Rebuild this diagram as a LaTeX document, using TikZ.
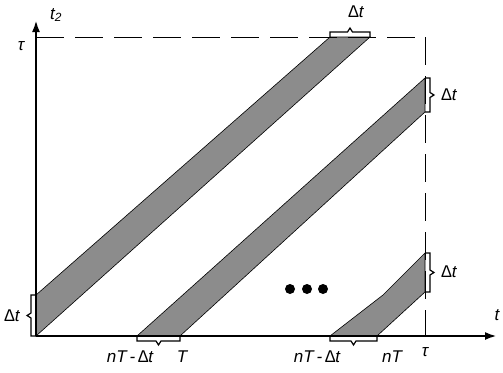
\documentclass[tikz,border=0pt]{standalone}
\usepackage{fontspec}
\setmainfont{Liberation Sans}
\usetikzlibrary{arrows.meta,calc}

\begin{document}
\begin{tikzpicture}[
    x=1pt, y=-1pt,
    lab/.style={font=\fontsize{17}{20}\selectfont\itshape, inner sep=0pt},
    band/.style={draw=black, fill=black!45, line width=0.6pt},
    axis/.style={line width=2.4pt, -{Latex[length=12pt,width=8pt]}},
    guide/.style={line width=0.8pt, dash pattern=on 28pt off 11pt},
    flatbrace/.style={draw=black, line width=1.2pt, to path={
        let \p1=(\tikztostart), \p2=(\tikztotarget),
            \n1={atan2(\y2-\y1,\x2-\x1)},
            \n2={veclen(\x2-\x1,\y2-\y1)/2-2.5} in
        -- ++({\n1+90}:5pt) -- ++({\n1}:\n2)
        -- ++({\n1+58}:4.7pt) -- ++({\n1-58}:4.7pt)
        -- ++({\n1}:\n2) -- (\tikztotarget)}},
    dot/.style={circle, fill=black, minimum size=10pt, inner sep=0pt}
]
\useasboundingbox (0,0) rectangle (503,372);

% Reference points
\coordinate (O) at (36,336);
\coordinate (ytop) at (36,20);
\coordinate (xend) at (497,336);
\coordinate (tauy) at (36,37);
\coordinate (taucorner) at (425,37);
\coordinate (taux) at (425,336);

% First band
\coordinate (b1a) at (36,336);
\coordinate (b1b) at (36,295);
\coordinate (b1c) at (330,37);
\coordinate (b1d) at (370,37);
\draw[band] (b1a) -- (b1b) -- (b1c) -- (b1d) -- cycle;

% Second band
\coordinate (b2a) at (137,336);
\coordinate (b2b) at (180,336);
\coordinate (b2c) at (425,112);
\coordinate (b2d) at (425,78);
\draw[band] (b2a) -- (b2b) -- (b2c) -- (b2d) -- cycle;

% Last band
\coordinate (b3a) at (330,336);
\coordinate (b3b) at (377,336);
\coordinate (b3c) at (425,292);
\coordinate (b3d) at (425,253);
\coordinate (b3k) at (383,295);
\draw[band] (b3a) -- (b3b) -- (b3c) -- (b3d) -- (b3k) -- cycle;

% Dashed limits
\draw[guide] (tauy) -- (taucorner);
\draw[guide] (taucorner) -- (taux);

% Axes
\draw[axis] (O) -- (ytop);
\draw[axis] (O) -- (xend);

% Brackets
\draw[flatbrace] (b1a) to (b1b);
\draw[flatbrace] (b1c) to (b1d);
\draw[flatbrace] (b2b) to (b2a);
\draw[flatbrace] (b2d) to (b2c);
\draw[flatbrace] (b3b) to (b3a);
\draw[flatbrace] (b3d) to (b3c);

% Dots
\node[dot] (d1) at (290,289) {};
\node[dot] (d2) at (307,289) {};
\node[dot] (d3) at (323,289) {};

% Labels
\node[lab] (t2lab) at (56,15) {t\textsubscript{2}};
\node[lab] (taulab) at (21,46) {τ};
\node[lab] (tlab) at (497,315) {t};
\node[lab] (dtleft) at (12,316) {∆t};
\node[lab] (dttop) at (356,12) {∆t};
\node[lab] (dtmid) at (449,95) {∆t};
\node[lab] (dtlow) at (449,272) {∆t};
\node[lab] (lo1) at (130,357) {nT\,-\,∆t};
\node[lab] (hi1) at (182,357) {T};
\node[lab] (lo2) at (317,357) {nT\,-\,∆t};
\node[lab] (hi2) at (392,357) {nT};
\node[lab] (taux lab) at (425,352) {τ};
\end{tikzpicture}
\end{document}
